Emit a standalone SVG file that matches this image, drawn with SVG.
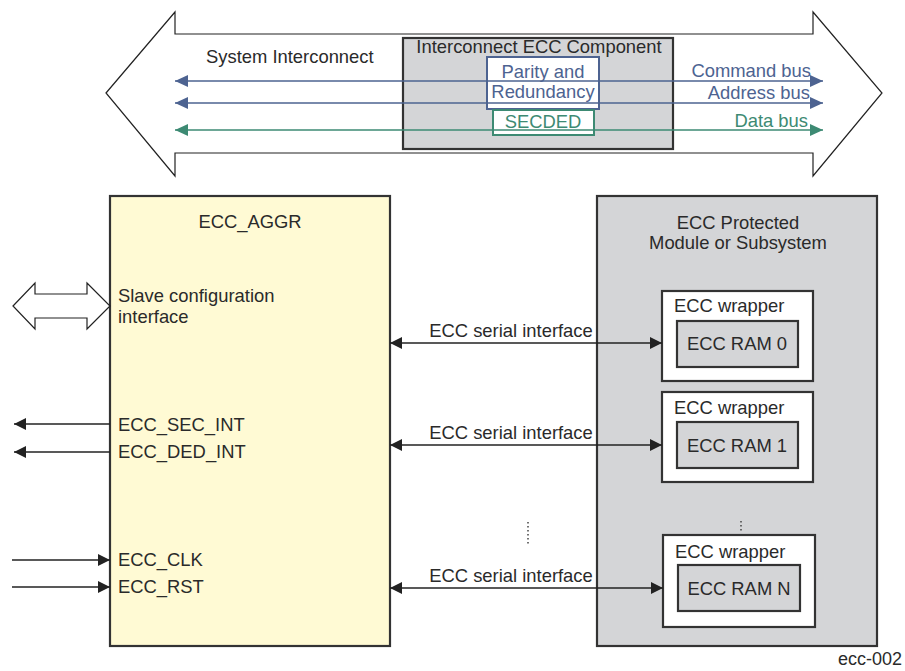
<svg xmlns="http://www.w3.org/2000/svg" width="905" height="671" viewBox="0 0 905 671">
<defs>
<style>
text{font-family:"Liberation Sans",Arial,sans-serif;font-size:18.4px;fill:#2a2a2a}
.box{stroke:#333;stroke-width:2.2}
.ln{stroke:#222;stroke-width:1.3;fill:none}
.blue{stroke:#4d6391;stroke-width:1.3;fill:none}
.green{stroke:#3d8a73;stroke-width:1.3;fill:none}
.bt{fill:#4d6391}
.gt{fill:#3d8a73}
.dot{stroke:#444;stroke-width:1.5;stroke-dasharray:1.5 2.5;fill:none}
</style>
<marker id="ak" viewBox="0 0 12 12" refX="12" refY="6" markerWidth="12" markerHeight="12" markerUnits="userSpaceOnUse" orient="auto-start-reverse"><path d="M0,0 L12,6 L0,12 Z" fill="#222"/></marker>
<marker id="ab" viewBox="0 0 13 12" refX="13" refY="6" markerWidth="13" markerHeight="12" markerUnits="userSpaceOnUse" orient="auto-start-reverse"><path d="M0,0 L13,6 L0,12 Z" fill="#4d6391"/></marker>
<marker id="ag" viewBox="0 0 13 12" refX="13" refY="6" markerWidth="13" markerHeight="12" markerUnits="userSpaceOnUse" orient="auto-start-reverse"><path d="M0,0 L13,6 L0,12 Z" fill="#3d8a73"/></marker>
</defs>

<g id="system-interconnect">
<polygon points="106,93 175,12 175,34 813,34 813,12 882,93 813,176 813,153 175,153 175,176" fill="#fff" stroke="#222" stroke-width="1.2"/>
<text x="206" y="63">System Interconnect</text>
</g>

<g id="interconnect-ecc">
<rect x="403" y="38" width="270" height="111" fill="#d4d5d7" class="box"/>
<text x="539" y="53" text-anchor="middle">Interconnect ECC Component</text>
</g>

<g id="parity">
<rect x="487" y="57" width="112" height="52" fill="#fff" stroke="#4d6391" stroke-width="2"/>
<text x="543" y="78" text-anchor="middle" class="bt">Parity and</text>
<text x="543" y="98" text-anchor="middle" class="bt">Redundancy</text>
</g>

<g id="secded">
<rect x="493" y="110" width="101" height="25" fill="#fff" stroke="#3d8a73" stroke-width="2"/>
<text x="543" y="128" text-anchor="middle" class="gt">SECDED</text>
</g>

<g id="ecc-aggr">
<rect x="110" y="196" width="280" height="450" fill="#fffad4" class="box"/>
<text x="250" y="228" text-anchor="middle">ECC_AGGR</text>
<text x="118" y="302">Slave configuration</text>
<text x="118" y="323">interface</text>
<text x="118" y="431">ECC_SEC_INT</text>
<text x="118" y="458">ECC_DED_INT</text>
<text x="118" y="566">ECC_CLK</text>
<text x="118" y="593">ECC_RST</text>
</g>

<g id="slave-config-arrow">
<polygon points="13,306 35,283 35,294 87,294 87,283 110,306 87,329 87,318 35,318 35,329" fill="#fff" stroke="#222" stroke-width="1.2"/>
</g>

<g id="ecc-protected">
<rect x="597" y="196" width="280" height="450" fill="#d4d5d7" class="box"/>
<text x="738" y="229" text-anchor="middle">ECC Protected</text>
<text x="738" y="249" text-anchor="middle">Module or Subsystem</text>
</g>

<g id="wrapper0">
<rect x="662" y="291" width="151" height="90" fill="#fff" class="box"/>
<text x="674" y="312">ECC wrapper</text>
<rect x="677" y="321" width="121" height="46" fill="#d4d5d7" class="box"/>
<text x="737" y="350" text-anchor="middle">ECC RAM 0</text>
</g>

<g id="wrapper1">
<rect x="662" y="392" width="151" height="90" fill="#fff" class="box"/>
<text x="674" y="414">ECC wrapper</text>
<rect x="677" y="422" width="121" height="46" fill="#d4d5d7" class="box"/>
<text x="737" y="452" text-anchor="middle">ECC RAM 1</text>
</g>

<g id="wrapperN">
<rect x="663" y="535" width="152" height="92" fill="#fff" class="box"/>
<text x="675" y="558">ECC wrapper</text>
<rect x="678" y="565" width="122" height="46" fill="#d4d5d7" class="box"/>
<text x="739" y="595" text-anchor="middle">ECC RAM N</text>
</g>

<g id="connectors">
<line x1="175" y1="81" x2="823" y2="81" class="blue" marker-start="url(#ab)" marker-end="url(#ab)"/>
<line x1="175" y1="103" x2="823" y2="103" class="blue" marker-start="url(#ab)" marker-end="url(#ab)"/>
<line x1="175" y1="130" x2="823" y2="130" class="green" marker-start="url(#ag)" marker-end="url(#ag)"/>
<text x="811" y="77" text-anchor="end" class="bt">Command bus</text>
<text x="810" y="99" text-anchor="end" class="bt">Address bus</text>
<text x="808" y="127" text-anchor="end" class="gt">Data bus</text>

<line x1="110" y1="424" x2="14" y2="424" class="ln" marker-end="url(#ak)"/>
<line x1="110" y1="452" x2="14" y2="452" class="ln" marker-end="url(#ak)"/>
<line x1="12" y1="560" x2="110" y2="560" class="ln" marker-end="url(#ak)"/>
<line x1="12" y1="587" x2="110" y2="587" class="ln" marker-end="url(#ak)"/>

<line x1="390" y1="343" x2="662" y2="343" class="ln" marker-start="url(#ak)" marker-end="url(#ak)"/>
<line x1="390" y1="445" x2="662" y2="445" class="ln" marker-start="url(#ak)" marker-end="url(#ak)"/>
<line x1="390" y1="588" x2="663" y2="588" class="ln" marker-start="url(#ak)" marker-end="url(#ak)"/>
<text x="511" y="337" text-anchor="middle">ECC serial interface</text>
<text x="511" y="439" text-anchor="middle">ECC serial interface</text>
<text x="511" y="582" text-anchor="middle">ECC serial interface</text>

<line x1="528" y1="522" x2="528" y2="544" class="dot"/>
<line x1="741" y1="521" x2="741" y2="531" class="dot"/>
</g>

<text x="902" y="665" text-anchor="end" style="font-size:18px">ecc-002</text>
</svg>
